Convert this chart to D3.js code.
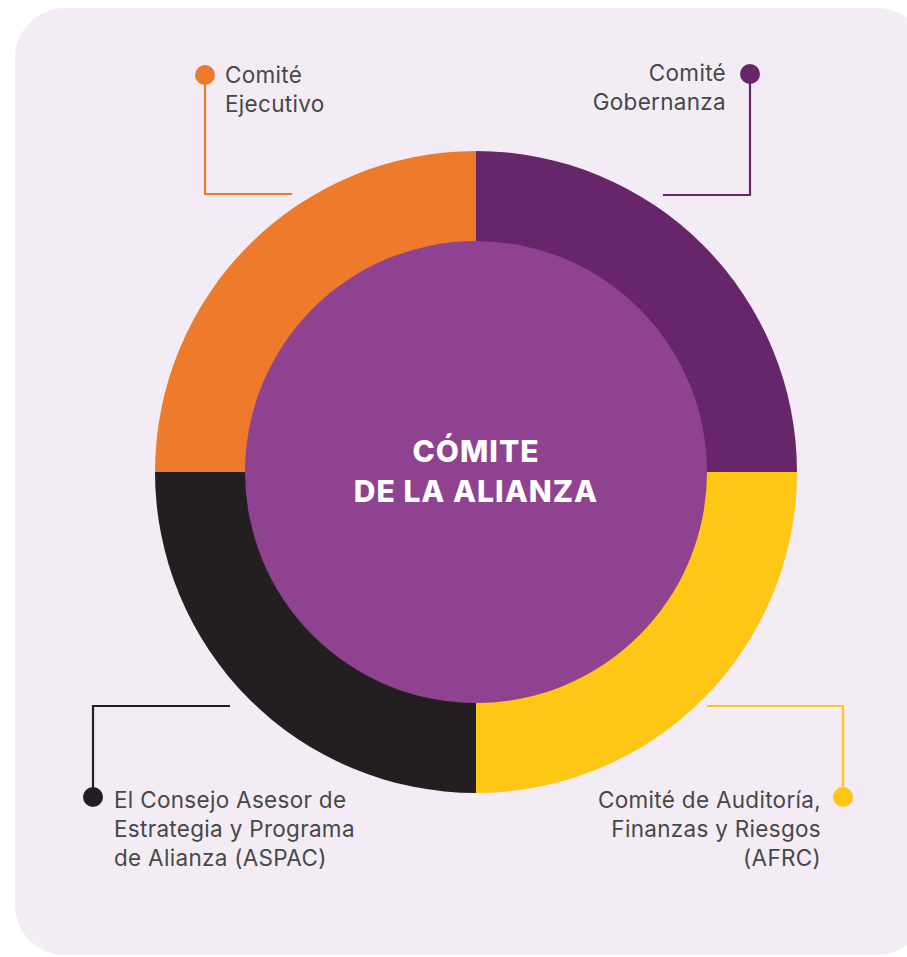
<!DOCTYPE html>
<html>
<head>
<meta charset="utf-8">
<script src="https://cdn.jsdelivr.net/npm/d3@7"></script>
<style>
  body { margin: 0; background: #fff; }
  svg text { font-family: Inter, "Open Sans", sans-serif; }
</style>
</head>
<body>
<svg width="907" height="957"></svg>
<script>
// the four committees, clockwise from 12 o'clock
const committees = ["Comité Gobernanza", "Comité de Auditoría, Finanzas y Riesgos (AFRC)",
  "El Consejo Asesor de Estrategia y Programa de Alianza (ASPAC)", "Comité Ejecutivo"];
const shares = [1, 1, 1, 1];
const colors = ["#662669", "#fec715", "#231f20", "#ee7a2c"];
const labelLines = [
  ["Comité", "Gobernanza"],
  ["Comité de Auditoría,", "Finanzas y Riesgos", "(AFRC)"],
  ["El Consejo Asesor de", "Estrategia y Programa", "de Alianza (ASPAC)"],
  ["Comité", "Ejecutivo"]
];
const centerLines = ["CÓMITE", "DE LA ALIANZA"];

const svg = d3.select("svg");
const cx = 476, cy = 472;
const outerR = 321, innerR = 231;

svg.append("rect")
  .attr("x", 15).attr("y", 8)
  .attr("width", 912).attr("height", 947)
  .attr("rx", 50)
  .attr("fill", "#f3ecf5");

const pie = d3.pie().sort(null)(shares);
const arc = d3.arc().innerRadius(innerR - 2).outerRadius(outerR);

const g = svg.append("g").attr("transform", `translate(${cx},${cy})`);
g.selectAll("path")
  .data(pie)
  .enter().append("path")
  .attr("d", arc)
  .attr("fill", (d, i) => colors[i]);

g.append("circle").attr("r", innerR).attr("fill", "#8e4290");

g.selectAll("text.center")
  .data(centerLines)
  .enter().append("text")
  .attr("class", "center")
  .attr("text-anchor", "middle")
  .attr("x", 0)
  .attr("y", (d, i) => -10 + i * 40)
  .attr("fill", "#fff")
  .attr("font-size", 30)
  .attr("font-weight", 800)
  .attr("letter-spacing", 1)
  .text(d => d);

// leader lines: elbow from the ring edge out to a dot by the label
const leaders = [
  { from: [663, 195], corner: [750, 195], dot: [750, 74], tx: 726, ty: 81, anchor: "end" },
  { from: [707, 706], corner: [843, 706], dot: [843, 797], tx: 821, ty: 808, anchor: "end" },
  { from: [230, 706], corner: [93, 706], dot: [93, 797], tx: 114, ty: 808, anchor: "start" },
  { from: [292, 194], corner: [205, 194], dot: [205, 75], tx: 225, ty: 83, anchor: "start" }
];

const lab = svg.selectAll("g.label")
  .data(leaders)
  .enter().append("g")
  .attr("class", "label");

lab.append("polyline")
  .attr("points", d => [d.from, d.corner, d.dot].map(p => p.join(",")).join(" "))
  .attr("fill", "none")
  .attr("stroke", (d, i) => colors[i])
  .attr("stroke-width", 2.2);

lab.append("circle")
  .attr("cx", d => d.dot[0]).attr("cy", d => d.dot[1])
  .attr("r", 10)
  .attr("fill", (d, i) => colors[i]);

lab.append("text")
  .attr("text-anchor", d => d.anchor)
  .attr("fill", "#474747")
  .attr("font-size", 22.5)
  .attr("letter-spacing", 0.3)
  .each(function (d, i) {
    d3.select(this).selectAll("tspan")
      .data(labelLines[i])
      .enter().append("tspan")
      .attr("x", d.tx)
      .attr("y", (t, j) => d.ty + j * 29)
      .text(t => t);
  });
</script>
</body>
</html>
